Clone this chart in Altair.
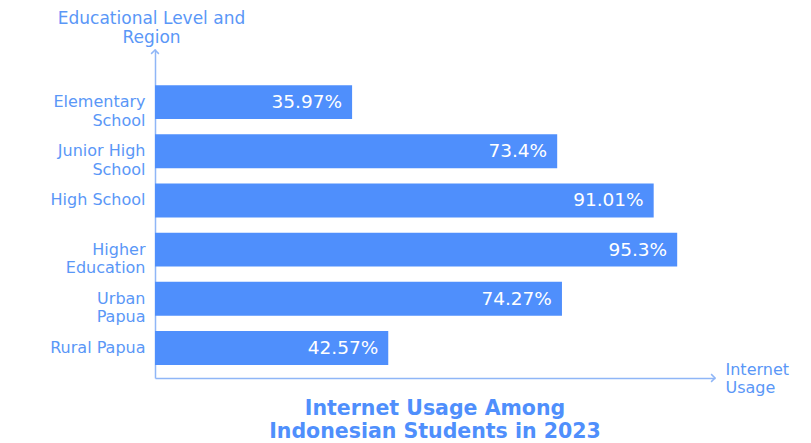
import altair as alt
import pandas as pd

categories = ["Elementary\nSchool", "Junior High\nSchool", "High School",
              "Higher\nEducation", "Urban\nPapua", "Rural Papua"]
values = [35.97, 73.4, 91.01, 95.3, 74.27, 42.57]
labels = ["35.97%", "73.4%", "91.01%", "95.3%", "74.27%", "42.57%"]

df = pd.DataFrame({"cat": categories, "val": values, "lab": labels})

BAR = "#4f8ffc"
TXT = "#5a97f7"
AX = "#8fb6f7"
FONT = "DejaVu Sans"

W, H = 560, 329

y_enc = alt.Y("cat:N", sort=categories,
              scale=alt.Scale(paddingInner=0.31, paddingOuter=0.50, align=0.735),
              axis=alt.Axis(title=["Educational Level and", "Region"],
                            titleAngle=0, titleAlign="center", titleBaseline="top",
                            titleX=-4, titleY=-39, titleFontSize=17, titleFont=FONT,
                            titleFontWeight="normal", titleColor=TXT, titleLineHeight=19,
                            labelExpr="split(datum.label, '\\n')",
                            labelFont=FONT, labelFontSize=16, labelColor=TXT,
                            labelLineHeight=18.5, labelPadding=10, ticks=False,
                            domainColor=AX, domainWidth=1.5, grid=False))
x_enc = alt.X("val:Q", scale=alt.Scale(domain=[0, 102.2], nice=False),
              axis=alt.Axis(title=["Internet", "Usage"], titleAlign="left",
                            titleBaseline="top", titleX=570, titleY=-17,
                            titleFontSize=16, titleFont=FONT, titleFontWeight="normal",
                            titleColor=TXT, titleLineHeight=18.5,
                            labels=False, ticks=False, grid=False,
                            domainColor=AX, domainWidth=1.5))

base = alt.Chart(df)
bars = base.mark_bar(color=BAR).encode(y=y_enc, x=x_enc)
text = base.mark_text(align="right", dx=-10, color="white", font=FONT,
                      fontSize=18.5, baseline="middle").encode(
    y=alt.Y("cat:N", sort=categories), x="val:Q", text="lab:N")

arrow_df = pd.DataFrame({"k": ["a"]})
up = alt.Chart(arrow_df).mark_point(
    shape="M-1,1L0,0L1,1", filled=False, color=AX, size=60, strokeWidth=1.5, opacity=1
).encode(x=alt.value(0), y=alt.value(1))
right = alt.Chart(arrow_df).mark_point(
    shape="M-1,-1L0,0L-1,1", filled=False, color=AX, size=60, strokeWidth=1.5, opacity=1
).encode(x=alt.value(W), y=alt.value(H))

chart = alt.layer(bars, text, up, right).properties(
    width=W, height=H,
    title=alt.TitleParams(["Internet Usage Among", "Indonesian Students in 2023"],
                          orient="bottom", anchor="middle", fontSize=20.5, font=FONT,
                          fontWeight="bold", color=BAR, lineHeight=23, offset=3),
    autosize=alt.AutoSizeParams(type="none"),
    padding={"left": 147, "top": 41, "right": 88, "bottom": 65},
).configure(background="white").configure_view(stroke=None)

chart.save("out.html", embed_options={"renderer": "svg", "actions": False})
